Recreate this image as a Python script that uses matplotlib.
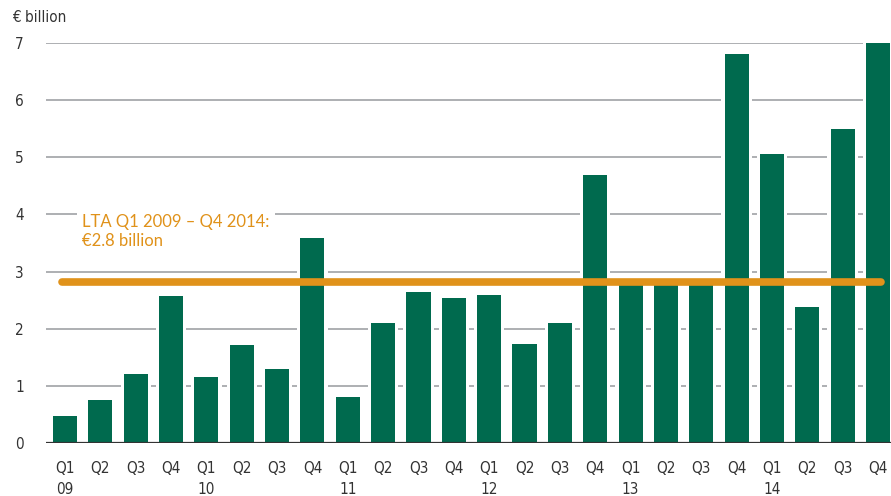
import matplotlib.pyplot as plt
from matplotlib import font_manager
import numpy as np

# quarterly values, EUR billion
quarters = ['Q1', 'Q2', 'Q3', 'Q4'] * 6
years = ['09', '10', '11', '12', '13', '14']
values = [0.47, 0.75, 1.21, 2.57,
          1.16, 1.72, 1.30, 3.59,
          0.81, 2.10, 2.64, 2.54,
          2.59, 1.73, 2.10, 4.69,
          2.85, 2.85, 2.85, 6.81,
          5.05, 2.38, 5.49, 7.00]
lta = 2.82
lta_text = 'LTA Q1 2009 \u2013 Q4 2014:\n\u20ac2.8 billion'

green = '#006A4E'
orange = '#E0921A'
grid_grey = '#A7A9AC'

cond = font_manager.FontProperties(family='DejaVu Sans', stretch='condensed', size=11)

labels = []
for i, q in enumerate(quarters):
    labels.append(q + '\n' + years[i // 4] if q == 'Q1' else q)

fig = plt.figure(figsize=(8.91, 4.96), dpi=100)
ax = fig.add_axes([46 / 891, (496 - 443) / 496, 845 / 891, 400 / 496])

x = np.arange(len(values))

# gridlines, broken around the bars by a white underlay
for g in range(1, 8):
    ax.axhline(g, color=grid_grey, lw=1.3, zorder=1)
ax.bar(x, values, width=0.86, color='white', zorder=2)
ax.bar(x, values, width=0.68, color=green, zorder=3)

# long-term average line
ax.plot([-0.08, 23.1], [lta, lta], color=orange, lw=5.5,
        solid_capstyle='round', zorder=4)
ax.text(0.48, 4.0, lta_text, color=orange, fontsize=12, family='Lato',
        va='top', ha='left', linespacing=1.2, zorder=4,
        bbox=dict(facecolor='white', edgecolor='none', pad=4))

ax.axhline(0, color='#333333', lw=1.6, zorder=5)

ax.set_xlim(-0.54, 23.37)
ax.set_ylim(0, 7)
ax.set_xticks(x)
ax.set_xticklabels(labels, fontproperties=cond, color='#333333',
                   linespacing=1.5, va='top')
ax.set_yticks(range(0, 8))
ax.set_yticklabels([str(i) for i in range(0, 8)], fontproperties=cond,
                   color='#333333')
ax.tick_params(length=0)
ax.tick_params(axis='x', pad=13)
ax.tick_params(axis='y', pad=16)
for s in ax.spines.values():
    s.set_visible(False)

fig.text(12 / 891, 1 - 18 / 496, '\u20ac billion', fontproperties=cond,
         color='#333333', va='center', ha='left')

fig.savefig('out.png', dpi=100)
